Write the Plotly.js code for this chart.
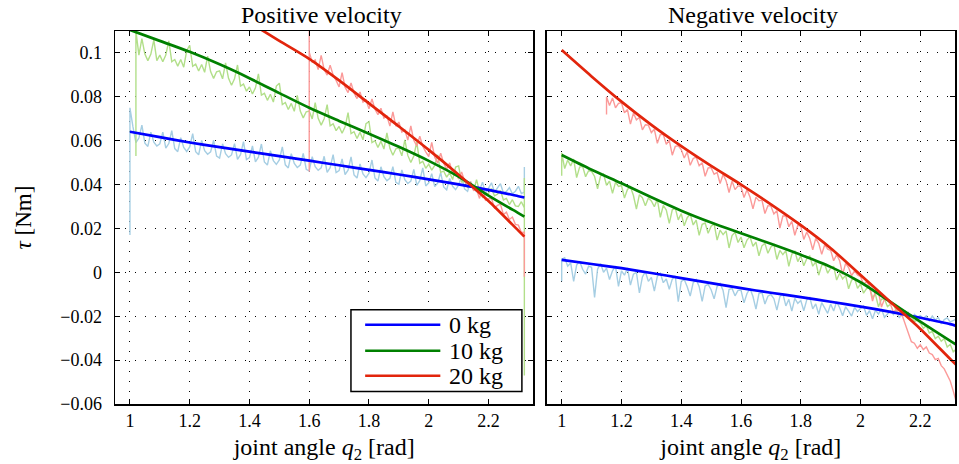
<!DOCTYPE html>
<html>
<head>
<meta charset="utf-8">
<script src="https://cdn.plot.ly/plotly-3.0.1.min.js"></script>
<style>html,body{margin:0;padding:0;background:#fff;}#chart{width:959px;height:464px;}</style>
</head>
<body>
<div id="chart"></div>
<script>
// joint angle grid for measured data (rad)
const q2 = [1.00,1.01,1.02,1.03,1.04,1.05,1.06,1.07,1.08,1.09,1.10,1.11,1.12,1.13,1.14,1.15,1.16,1.17,1.18,1.19,
1.20,1.21,1.22,1.23,1.24,1.25,1.26,1.27,1.28,1.29,1.30,1.31,1.32,1.33,1.34,1.35,1.36,1.37,1.38,1.39,
1.40,1.41,1.42,1.43,1.44,1.45,1.46,1.47,1.48,1.49,1.50,1.51,1.52,1.53,1.54,1.55,1.56,1.57,1.58,1.59,
1.60,1.61,1.62,1.63,1.64,1.65,1.66,1.67,1.68,1.69,1.70,1.71,1.72,1.73,1.74,1.75,1.76,1.77,1.78,1.79,
1.80,1.81,1.82,1.83,1.84,1.85,1.86,1.87,1.88,1.89,1.90,1.91,1.92,1.93,1.94,1.95,1.96,1.97,1.98,1.99,
2.00,2.01,2.02,2.03,2.04,2.05,2.06,2.07,2.08,2.09,2.10,2.11,2.12,2.13,2.14,2.15,2.16,2.17,2.18,2.19,
2.20,2.21,2.22,2.23,2.24,2.25,2.26,2.27,2.28,2.29,2.30,2.31,2.32];
// joint angle grid for fitted curves (rad)
const fitQ = [1.0,1.1,1.2,1.3,1.4,1.5,1.6,1.7,1.8,1.9,2.0,2.1,2.2,2.3,2.32];

const xTicks = [1,1.2,1.4,1.6,1.8,2,2.2];
const xTickText = ["1","1.2","1.4","1.6","1.8","2","2.2"];
const yTicks = [-0.06,-0.04,-0.02,0,0.02,0.04,0.06,0.08,0.1];
const yTickText = ["\u22120.06","\u22120.04","\u22120.02","0","0.02","0.04","0.06","0.08","0.1"];

const loads = ["0 kg","10 kg","20 kg"];

// ---- Positive velocity: measured torque (Nm) ----
const posBlueData = [
0.0750,0.0664,0.0591,0.0612,0.0671,0.0589,0.0574,0.0639,0.0593,0.0576,
0.0586,0.0639,0.0566,0.0587,0.0646,0.0564,0.0550,0.0614,0.0569,0.0551,
0.0572,0.0632,0.0550,0.0536,0.0601,0.0555,0.0538,0.0549,0.0602,0.0530,
0.0521,0.0586,0.0541,0.0524,0.0535,0.0587,0.0515,0.0536,0.0596,0.0514,
0.0523,0.0576,0.0504,0.0525,0.0585,0.0503,0.0489,0.0554,0.0509,0.0492,
0.0512,0.0572,0.0490,0.0476,0.0541,0.0496,0.0478,0.0489,0.0542,0.0470,
0.0462,0.0527,0.0482,0.0465,0.0476,0.0529,0.0456,0.0477,0.0537,0.0455,
0.0464,0.0517,0.0445,0.0466,0.0526,0.0444,0.0430,0.0494,0.0449,0.0432,
0.0452,0.0512,0.0430,0.0416,0.0481,0.0436,0.0418,0.0429,0.0482,0.0410,
0.0402,0.0467,0.0422,0.0405,0.0416,0.0469,0.0397,0.0418,0.0476,0.0394,
0.0408,0.0450,0.0391,0.0407,0.0455,0.0389,0.0376,0.0428,0.0392,0.0377,
0.0398,0.0439,0.0380,0.0369,0.0414,0.0380,0.0368,0.0374,0.0411,0.0359,
0.0381,0.0408,0.0365,0.0382,0.0404,0.0362,0.0369,0.0386,0.0358,0.0370,0.0392,0.0359,0.0366];
const posBlueLead = [0.017];
const posBlueTail = [0.048];

const posGreenData = [
0.1100,0.0990,0.1065,0.0995,0.0965,0.0995,0.1060,0.0965,
0.0990,0.0960,0.0990,0.1055,0.0960,0.0970,0.0940,0.0970,0.0935,0.1010,
0.1035,0.0939,0.0949,0.0918,0.0947,0.0912,0.0986,0.0915,0.0884,0.0914,
0.0918,0.0882,0.0955,0.0884,0.0853,0.0882,0.0945,0.0849,0.0858,0.0826,
0.0845,0.0813,0.0841,0.0905,0.0808,0.0816,0.0784,0.0812,0.0776,0.0849,
0.0862,0.0765,0.0774,0.0742,0.0770,0.0734,0.0807,0.0735,0.0704,0.0732,
0.0735,0.0699,0.0773,0.0702,0.0671,0.0700,0.0764,0.0668,0.0677,0.0646,
0.0665,0.0634,0.0663,0.0728,0.0632,0.0641,0.0610,0.0639,0.0604,0.0678,
0.0687,0.0591,0.0600,0.0569,0.0598,0.0562,0.0636,0.0565,0.0534,0.0563,
0.0567,0.0531,0.0604,0.0533,0.0501,0.0530,0.0594,0.0497,0.0506,0.0474,
0.0493,0.0466,0.0487,0.0535,0.0456,0.0461,0.0434,0.0455,0.0423,0.0480,
0.0485,0.0412,0.0415,0.0388,0.0405,0.0375,0.0422,0.0368,0.0342,0.0358,
0.0360,0.0382,0.0349,0.0356,0.0373,0.0330,0.0337,0.0309,0.0331,0.0303,0.0300,0.0322,0.0294];
const posGreenLead = [0.053];
const posGreenTail = [0.043,-0.047];

const posRedData = [
0.1003,0.0958,0.0968,0.0924,0.0989,0.0924,0.0899,0.0944,0.0900,0.0875,
0.0845,0.0910,0.0844,0.0819,0.0863,0.0818,0.0792,0.0822,0.0776,0.0786,
0.0745,0.0790,0.0744,0.0719,0.0748,0.0703,0.0712,0.0667,0.0731,0.0666,
0.0685,0.0639,0.0649,0.0603,0.0667,0.0602,0.0576,0.0620,0.0575,0.0549,
0.0528,0.0592,0.0525,0.0499,0.0543,0.0497,0.0470,0.0499,0.0453,0.0461,
0.0425,0.0457,0.0417,0.0393,0.0413,0.0373,0.0377,0.0337,0.0385,0.0329,
0.0335,0.0337,0.0293,0.0305,0.0311,0.0263,0.0274,0.0241,0.0252,0.0219,0.0215,0.0182,0.0183];
const posRedLead = [0.046,0.110];
const posRedTail = [-0.002];

// ---- Positive velocity: fitted torque (Nm) ----
const posBlueFit  = [0.0641,0.0616,0.0592,0.0571,0.0550,0.0530,0.0509,0.0488,0.0467,0.0446,0.0424,0.0401,0.0376,0.0347,0.0341];
const posGreenFit = [0.1105,0.1055,0.1005,0.0948,0.0885,0.0817,0.0750,0.0690,0.0632,0.0572,0.0508,0.0436,0.0350,0.0270,0.0254];
const posRedFit   = [0.1139,0.1055,0.0973,0.0875,0.0770,0.0665,0.0558,0.0445,0.0325,0.0190,0.0163];

// ---- Negative velocity: measured torque (Nm) ----
const negBlueData = [
0.0060,0.0067,0.0028,0.0043,-0.0041,0.0033,0.0051,0.0014,-0.0008,0.0028,
0.0023,-0.0114,0.0014,0.0040,0.0000,0.0019,-0.0033,0.0007,0.0028,-0.0064,
0.0007,-0.0013,0.0020,-0.0058,-0.0008,0.0000,-0.0094,-0.0021,0.0003,-0.0041,
-0.0023,-0.0085,-0.0018,-0.0004,-0.0047,-0.0030,-0.0077,-0.0031,-0.0017,-0.0134,
-0.0041,-0.0033,-0.0066,-0.0108,-0.0047,-0.0033,-0.0065,-0.0132,-0.0062,-0.0055,
-0.0079,-0.0121,-0.0064,-0.0051,-0.0083,-0.0161,-0.0078,-0.0073,-0.0107,-0.0082,
-0.0082,-0.0139,-0.0096,-0.0074,-0.0110,-0.0168,-0.0097,-0.0092,-0.0144,-0.0109,
-0.0101,-0.0120,-0.0172,-0.0111,-0.0097,-0.0153,-0.0123,-0.0177,-0.0119,-0.0141,
-0.0128,-0.0175,-0.0125,-0.0114,-0.0166,-0.0144,-0.0191,-0.0138,-0.0160,-0.0187,
-0.0144,-0.0176,-0.0134,-0.0161,-0.0198,-0.0157,-0.0177,-0.0199,-0.0160,-0.0179,
-0.0164,-0.0153,-0.0196,-0.0175,-0.0211,-0.0173,-0.0190,-0.0167,-0.0205,-0.0188,
-0.0175,-0.0193,-0.0175,-0.0208,-0.0183,-0.0199,-0.0184,-0.0224,-0.0192,-0.0204,
-0.0197,-0.0210,-0.0198,-0.0221,-0.0199,-0.0217,-0.0206,-0.0235,-0.0215,-0.0208,-0.0226,-0.0220,-0.0214];
const negBlueLead = [-0.004];
const negBlueTail = [-0.027,-0.016];

const negGreenData = [
0.0545,0.0473,0.0512,0.0485,0.0516,0.0432,0.0480,0.0483,0.0436,0.0463,
0.0460,0.0437,0.0381,0.0439,0.0448,0.0397,0.0416,0.0360,0.0410,0.0392,
0.0396,0.0339,0.0378,0.0390,0.0350,0.0288,0.0354,0.0340,0.0303,0.0339,
0.0325,0.0299,0.0333,0.0251,0.0305,0.0284,0.0223,0.0285,0.0293,0.0239,
0.0268,0.0212,0.0249,0.0266,0.0216,0.0238,0.0169,0.0219,0.0225,0.0178,
0.0210,0.0221,0.0147,0.0192,0.0172,0.0189,0.0111,0.0168,0.0183,0.0136,
0.0161,0.0112,0.0147,0.0163,0.0119,0.0138,0.0075,0.0121,0.0132,0.0087,
0.0116,0.0127,0.0059,0.0100,0.0081,0.0099,0.0027,0.0083,0.0096,0.0049,
0.0075,0.0030,0.0062,0.0074,0.0028,0.0048,-0.0013,0.0032,0.0036,-0.0004,
0.0020,0.0027,-0.0035,-0.0004,-0.0030,-0.0014,-0.0075,-0.0035,-0.0027,-0.0073,
-0.0053,-0.0095,-0.0074,-0.0069,-0.0113,-0.0101,-0.0157,-0.0122,-0.0121,-0.0156,
-0.0145,-0.0144,-0.0178,-0.0168,-0.0189,-0.0178,-0.0210,-0.0204,-0.0224,-0.0218,
-0.0232,-0.0255,-0.0243,-0.0276,-0.0269,-0.0302,-0.0291,-0.0314,-0.0302,-0.0340,-0.0328,-0.0362,-0.0350];
const negGreenLead = [0.044];
const negGreenTail = [-0.043,-0.030];

const negRedData = [
0.0800,0.0760,0.0795,0.0750,0.0770,
0.0773,0.0727,0.0742,0.0676,0.0726,0.0695,0.0706,0.0649,0.0673,0.0671,
0.0637,0.0652,0.0588,0.0628,0.0628,0.0584,0.0602,0.0534,0.0574,0.0577,
0.0560,0.0521,0.0549,0.0488,0.0519,0.0525,0.0486,0.0500,0.0438,0.0476,
0.0477,0.0447,0.0456,0.0405,0.0446,0.0418,0.0364,0.0416,0.0377,0.0394,
0.0390,0.0341,0.0377,0.0343,0.0289,0.0343,0.0326,0.0329,0.0268,0.0304,
0.0302,0.0266,0.0281,0.0202,0.0257,0.0258,0.0208,0.0232,0.0169,0.0215,
0.0210,0.0150,0.0184,0.0154,0.0103,0.0155,0.0132,0.0082,0.0126,0.0106,
0.0100,0.0053,0.0081,0.0053,-0.0009,0.0041,0.0022,-0.0015,0.0007,-0.0012,
-0.0020,-0.0054,-0.0042,-0.0064,-0.0131,-0.0084,-0.0091,-0.0158,-0.0122,-0.0128,
-0.0145,-0.0182,-0.0168,-0.0192,-0.0199,-0.0237,-0.0284,-0.0316,-0.0323,-0.0346,
-0.0330,-0.0352,-0.0340,-0.0368,-0.0375,-0.0398,-0.0392,-0.0425,-0.0440,-0.0470,-0.0495,-0.0540,-0.0590];
const negRedLead = [0.072];
const negRedTail = [-0.062,-0.002];

// ---- Negative velocity: fitted torque (Nm) ----
const negBlueFit  = [0.0057,0.0038,0.0019,-0.0003,-0.0026,-0.0049,-0.0072,-0.0093,-0.0113,-0.0134,-0.0156,-0.0180,-0.0207,-0.0236,-0.0244];
const negGreenFit = [0.0535,0.0468,0.0406,0.0342,0.0281,0.0227,0.0178,0.0130,0.0080,0.0025,-0.0045,-0.0135,-0.0225,-0.0312,-0.0330];
const negRedFit   = [0.1013,0.0893,0.0778,0.0672,0.0575,0.0485,0.0400,0.0310,0.0215,0.0110,-0.0012,-0.0135,-0.0258,-0.0395,-0.0421];

// ---- styling ----
const lightCols = ["#a6cee3","#b2df8a","#fb9a99"];
const darkCols  = ["#0000ff","#008000","#e2250c"];
const FONT = "Liberation Serif, Times New Roman, serif";

function measured(y, lead, tail, col, xa, ya) {
  const xs = q2.slice(q2.length - y.length);
  const x0 = xs[0], x1 = xs[xs.length - 1];
  return {
    x: lead.map(() => x0).concat(xs, tail.map(() => x1)),
    y: lead.concat(y, tail),
    xaxis: xa, yaxis: ya, type: "scatter", mode: "lines",
    line: {color: col, width: 1.4}, showlegend: false, hoverinfo: "skip"
  };
}
function fitted(y, col, name, xa, ya) {
  return {
    x: fitQ.slice(fitQ.length - y.length), y: y,
    xaxis: xa, yaxis: ya, type: "scatter", mode: "lines", name: name,
    line: {color: col, width: 2.7, shape: "spline", smoothing: 0.8},
    showlegend: false
  };
}

const traces = [
  measured(posBlueData, posBlueLead, posBlueTail, lightCols[0], "x", "y"),
  measured(posGreenData, posGreenLead, posGreenTail, lightCols[1], "x", "y"),
  measured(posRedData, posRedLead, posRedTail, lightCols[2], "x", "y"),
  measured(negBlueData, negBlueLead, negBlueTail, lightCols[0], "x2", "y2"),
  measured(negGreenData, negGreenLead, negGreenTail, lightCols[1], "x2", "y2"),
  measured(negRedData, negRedLead, negRedTail, lightCols[2], "x2", "y2"),
  fitted(posBlueFit, darkCols[0], loads[0], "x", "y"),
  fitted(posGreenFit, darkCols[1], loads[1], "x", "y"),
  fitted(posRedFit, darkCols[2], loads[2], "x", "y"),
  fitted(negBlueFit, darkCols[0], loads[0], "x2", "y2"),
  fitted(negGreenFit, darkCols[1], loads[1], "x2", "y2"),
  fitted(negRedFit, darkCols[2], loads[2], "x2", "y2")
];

const axCommon = {
  showline: true, linecolor: "#000", linewidth: 1.5, mirror: "ticks",
  ticks: "inside", ticklen: 5, tickcolor: "#000", tickwidth: 1,
  showgrid: true, gridcolor: "#000", gridwidth: 1, griddash: "1px,9px",
  zeroline: false, tickfont: {family: FONT, size: 18, color: "#000"}
};
const xTitle = {text: "joint angle <i>q</i><sub>2</sub> [rad]", font: {family: FONT, size: 24, color: "#000"}, standoff: 8};

const layout = {
  width: 959, height: 464,
  margin: {l: 115, r: 4, t: 31, b: 60},
  paper_bgcolor: "#fff", plot_bgcolor: "#fff",
  font: {family: FONT, color: "#000"},
  showlegend: false,
  xaxis: Object.assign({}, axCommon, {domain: [0, 0.498], range: [0.95, 2.35], tickvals: xTicks, ticktext: xTickText, anchor: "y", title: xTitle}),
  xaxis2: Object.assign({}, axCommon, {domain: [0.514, 1], range: [0.95, 2.316], tickvals: xTicks, ticktext: xTickText, anchor: "y2", title: xTitle}),
  yaxis: Object.assign({}, axCommon, {range: [-0.06, 0.11], tickvals: yTicks, ticktext: yTickText, anchor: "x", ticklabelstandoff: 8,
    title: {text: "<i>τ</i> [Nm]", font: {family: FONT, size: 23, color: "#000"}, standoff: 22}}),
  yaxis2: Object.assign({}, axCommon, {range: [-0.06, 0.11], tickvals: yTicks, showticklabels: false, anchor: "x2"}),
  annotations: [
    {text: "Positive velocity", xref: "paper", yref: "paper", x: 0.2455, y: 1.042, xanchor: "center", yanchor: "middle", showarrow: false, font: {family: FONT, size: 24, color: "#000"}},
    {text: "Negative velocity", xref: "paper", yref: "paper", x: 0.7596, y: 1.042, xanchor: "center", yanchor: "middle", showarrow: false, font: {family: FONT, size: 24, color: "#000"}},
    {text: loads[0], xref: "paper", yref: "paper", x: 0.3955, y: 0.2124, xanchor: "left", yanchor: "middle", showarrow: false, font: {family: FONT, size: 24, color: "#000"}},
    {text: loads[1], xref: "paper", yref: "paper", x: 0.3955, y: 0.1428, xanchor: "left", yanchor: "middle", showarrow: false, font: {family: FONT, size: 24, color: "#000"}},
    {text: loads[2], xref: "paper", yref: "paper", x: 0.3955, y: 0.0758, xanchor: "left", yanchor: "middle", showarrow: false, font: {family: FONT, size: 24, color: "#000"}}
  ],
  shapes: [
    {type: "rect", xref: "paper", yref: "paper", x0: 0.2809, x1: 0.4844, y0: 0.0338, y1: 0.2526, line: {color: "#000", width: 1.5}, fillcolor: "#fff", layer: "above"},
    {type: "line", xref: "paper", yref: "paper", x0: 0.2978, x1: 0.3873, y0: 0.2124, y1: 0.2124, line: {color: darkCols[0], width: 2.7}, layer: "above"},
    {type: "line", xref: "paper", yref: "paper", x0: 0.2978, x1: 0.3873, y0: 0.1428, y1: 0.1428, line: {color: darkCols[1], width: 2.7}, layer: "above"},
    {type: "line", xref: "paper", yref: "paper", x0: 0.2978, x1: 0.3873, y0: 0.0758, y1: 0.0758, line: {color: darkCols[2], width: 2.7}, layer: "above"}
  ]
};

Plotly.newPlot("chart", traces, layout, {displayModeBar: false, staticPlot: true});
</script>
</body>
</html>
